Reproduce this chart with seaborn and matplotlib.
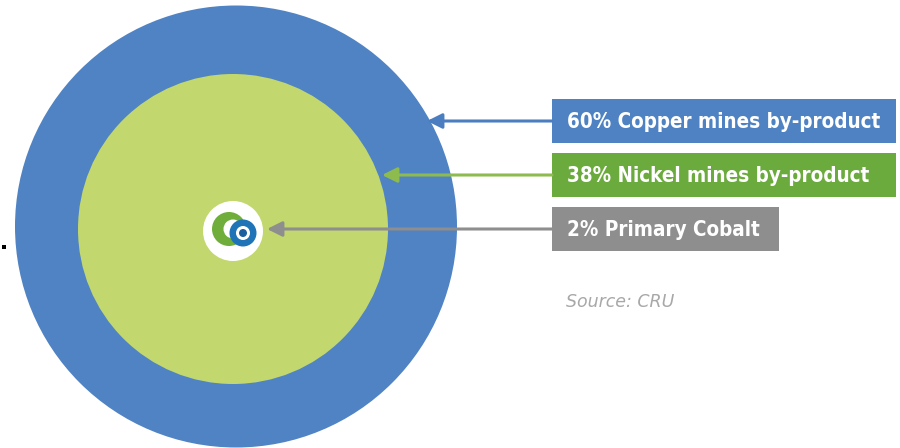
import matplotlib
matplotlib.use("Agg")
import matplotlib.pyplot as plt
from matplotlib.patches import Circle, Rectangle, FancyArrowPatch
import seaborn as sns

# Data
categories = ["Copper mines by-product", "Nickel mines by-product", "Primary Cobalt"]
shares = [60, 38, 2]
source_text = "Source: CRU"

sns.set_theme(style="white")
plt.rcParams['font.family'] = ['DejaVu Sans']

blue = "#5083C3"
light_green = "#C2D86F"
box_colors = ["#4F82C2", "#6BAA3C", "#8E8E8E"]
arrow_colors = ["#4A7EC0", "#8DBB4E", "#8E8E8E"]

fig = plt.figure(figsize=(9, 4.48), dpi=100)
ax = fig.add_axes([0, 0, 1, 1])
ax.set_xlim(0, 900)
ax.set_ylim(448, 0)
ax.set_aspect("equal")
ax.axis("off")

# Concentric circles
ax.add_patch(Circle((236, 226.5), 221, color=blue, lw=0))
ax.add_patch(Circle((233, 229), 155, color=light_green, lw=0))
# icon
ax.add_patch(Circle((233, 231), 30, color="white", lw=0))
ax.add_patch(Circle((229, 229), 17, color="#6FAE3A", lw=0))
ax.add_patch(Circle((233, 229), 9.5, color="white", lw=0))
ax.add_patch(Circle((243, 233), 13.5, color="#1F74B8", lw=0))
ax.add_patch(Circle((243, 233), 7, color="white", lw=0))
ax.add_patch(Circle((243, 233), 4, color="#1A5F9E", lw=0))

# small dot at left
ax.add_patch(Rectangle((2, 245), 4, 4, color="black", lw=0))

box_x = 552
box_widths = [344, 344, 227]
box_y = [99, 153, 207]
box_h = 44
arrow_tips = [427, 382, 267]

for cat, sh, w, y, c, ac, tip in zip(categories, shares, box_widths, box_y,
                                     box_colors, arrow_colors, arrow_tips):
    ax.add_patch(Rectangle((box_x, y), w, box_h, color=c, lw=0))
    ax.text(box_x + 15, y + box_h / 2 + 1, f"{sh}% {cat}", color="white",
            fontsize=14.8, fontweight="bold", va="center", ha="left",
            fontstretch="condensed")
    ax.add_patch(FancyArrowPatch((box_x, y + box_h / 2), (tip, y + box_h / 2),
                                 arrowstyle="-|>,head_length=9,head_width=4.5",
                                 color=ac, lw=2.2, mutation_scale=1,
                                 shrinkA=0, shrinkB=0))

ax.text(566, 302, source_text, color="#A8A8A8", fontsize=12.5,
        style="italic", va="center", ha="left")

fig.savefig("out.png", dpi=100)
